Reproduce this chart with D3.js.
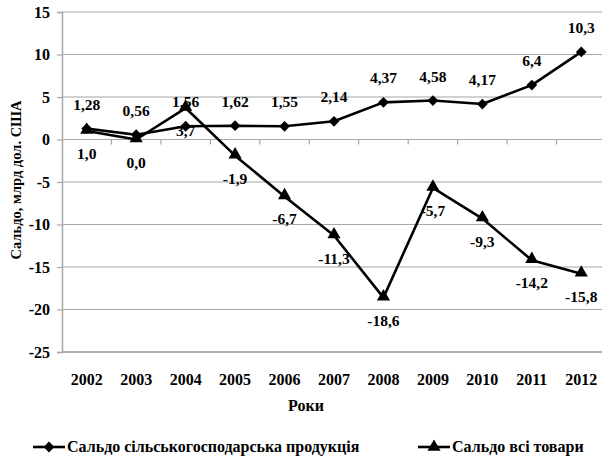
<!DOCTYPE html>
<html>
<head>
<meta charset="utf-8">
<script src="https://cdn.jsdelivr.net/npm/d3@7"></script>
<style>
  body { margin: 0; background: #fff; }
  text { font-family: "Liberation Serif", "Times New Roman", serif; font-weight: bold; fill: #000; }
</style>
</head>
<body>
<script>
// data
var years = ["2002","2003","2004","2005","2006","2007","2008","2009","2010","2011","2012"];
var agri = [1.28, 0.56, 1.56, 1.62, 1.55, 2.14, 4.37, 4.58, 4.17, 6.4, 10.3];
var total = [1.0, 0.0, 3.7, -1.9, -6.7, -11.3, -18.6, -5.7, -9.3, -14.2, -15.8];
var yTicks = [15, 10, 5, 0, -5, -10, -15, -20, -25];
var agriName = "Сальдо сільськогосподарська продукція";
var totalName = "Сальдо всі товари";

var width = 602, height = 456;
var plotL = 62, plotR = 606, plotT = 12, plotB = 352;

var svg = d3.select("body").append("svg")
    .attr("width", width)
    .attr("height", height);

var x = d3.scaleBand().domain(years).range([plotL, plotR]);
var y = d3.scaleLinear().domain([-25, 15]).range([plotB, plotT]);

function cx(i) { return x(years[i]) + x.bandwidth() / 2; }

function fmt(v) {
  return String(v).replace(".", ",").replace(/^(-?\d+)$/, "$1,0");
}

// gridlines
svg.append("g").selectAll("line")
   .data(yTicks.filter(function(d) { return d !== -25; }))
   .enter().append("line")
   .attr("x1", plotL).attr("x2", plotR)
   .attr("y1", function(d) { return y(d); })
   .attr("y2", function(d) { return y(d); })
   .attr("stroke", "#a6a6a6")
   .attr("stroke-width", 1.2);

// bottom border
svg.append("line")
   .attr("x1", plotL).attr("x2", plotR)
   .attr("y1", y(-25)).attr("y2", y(-25))
   .attr("stroke", "#b0b0b0").attr("stroke-width", 1.8);

// y axis
var yAxis = svg.append("g")
   .attr("transform", "translate(" + plotL + ",0)")
   .call(d3.axisLeft(y).tickValues(yTicks).tickSize(5).tickPadding(7)
         .tickFormat(function(d) { return String(d); }));
yAxis.attr("font-family", null).attr("font-size", null);
yAxis.select(".domain").attr("stroke", "#a6a6a6").attr("stroke-width", 1.5);
yAxis.selectAll(".tick line").attr("stroke", "#a6a6a6").attr("stroke-width", 1.2);
yAxis.selectAll("text")
   .style("font-family", "'Liberation Serif', 'Times New Roman', serif")
   .style("font-size", "16px").attr("fill", "#000");

// category ticks on the zero line
svg.append("g").selectAll("line")
   .data(years.slice(1))
   .enter().append("line")
   .attr("x1", function(d) { return x(d); })
   .attr("x2", function(d) { return x(d); })
   .attr("y1", y(0)).attr("y2", y(0) + 5)
   .attr("stroke", "#a6a6a6").attr("stroke-width", 1.2);

// x labels
svg.append("g").selectAll("text")
   .data(years)
   .enter().append("text")
   .attr("x", function(d) { return x(d) + x.bandwidth() / 2; })
   .attr("y", 385)
   .attr("text-anchor", "middle")
   .style("font-size", "16px")
   .text(function(d) { return d; });

// axis titles
svg.append("text")
   .attr("x", 306).attr("y", 411)
   .attr("text-anchor", "middle")
   .style("font-size", "16px")
   .text("Роки");

svg.append("text")
   .attr("transform", "translate(21,180) rotate(-90)")
   .attr("text-anchor", "middle")
   .style("font-size", "14.5px")
   .text("Сальдо, млрд дол. США");

var line = d3.line()
   .x(function(d, i) { return cx(i); })
   .y(function(d) { return y(d); });

var diamond = d3.symbol().type(d3.symbolSquare).size(58);
var triangle = d3.symbol().type(d3.symbolTriangle).size(75);

// total series
svg.append("path").datum(total)
   .attr("d", line).attr("fill", "none")
   .attr("stroke", "#000").attr("stroke-width", 2.6)
   .attr("stroke-linejoin", "round");
svg.append("g").selectAll("path")
   .data(total).enter().append("path")
   .attr("d", triangle)
   .attr("transform", function(d, i) { return "translate(" + cx(i) + "," + (y(d) - 1) + ")"; });

// agri series
svg.append("path").datum(agri)
   .attr("d", line).attr("fill", "none")
   .attr("stroke", "#000").attr("stroke-width", 2.6)
   .attr("stroke-linejoin", "round");
svg.append("g").selectAll("path")
   .data(agri).enter().append("path")
   .attr("d", diamond)
   .attr("transform", function(d, i) { return "translate(" + cx(i) + "," + y(d) + ") rotate(45)"; });

// data labels
svg.append("g").selectAll("text")
   .data(agri).enter().append("text")
   .attr("x", function(d, i) { return cx(i); })
   .attr("y", function(d) { return y(d) - 19; })
   .attr("text-anchor", "middle")
   .style("font-size", "15.5px")
   .text(function(d) { return fmt(d); });

svg.append("g").selectAll("text")
   .data(total).enter().append("text")
   .attr("x", function(d, i) { return cx(i); })
   .attr("y", function(d) { return y(d) + 28; })
   .attr("text-anchor", "middle")
   .style("font-size", "15.5px")
   .text(function(d) { return fmt(d); });

// legend
var legend = [
  { name: agriName, sym: diamond, rot: 45, x: 33 },
  { name: totalName, sym: triangle, rot: 0, x: 418 }
];
var lg = svg.append("g").selectAll("g")
   .data(legend).enter().append("g")
   .attr("transform", function(d) { return "translate(" + d.x + ",447)"; });
lg.append("line")
   .attr("x1", 0).attr("x2", 32)
   .attr("stroke", "#000").attr("stroke-width", 2.6);
lg.append("path")
   .attr("d", function(d) { return d.sym(); })
   .attr("transform", function(d) { return "translate(16,0) rotate(" + d.rot + ")"; });
lg.append("text")
   .attr("x", 34).attr("y", 5)
   .style("font-size", "16px")
   .text(function(d) { return d.name; });
</script>
</body>
</html>
